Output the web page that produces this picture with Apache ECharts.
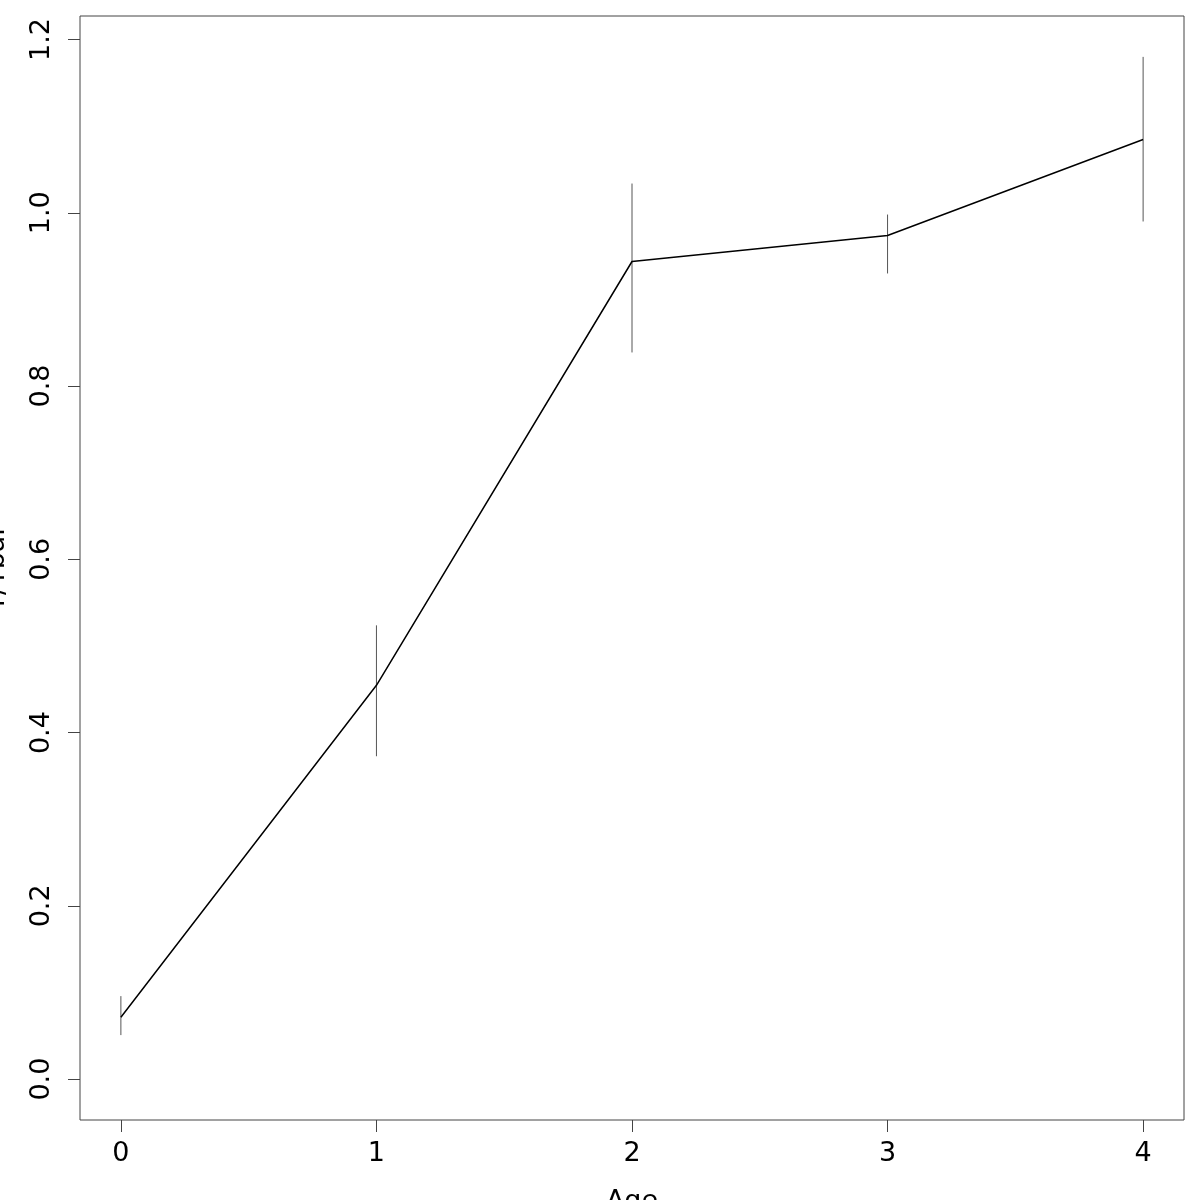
<!DOCTYPE html>
<html>
<head>
<meta charset="utf-8">
<script src="https://cdn.jsdelivr.net/npm/echarts@6/dist/echarts.min.js"></script>
<style>html,body{margin:0;padding:0;background:#fff;}#c{width:1200px;height:1200px;}</style>
</head>
<body>
<div id="c"></div>
<script>
const ages = [0, 1, 2, 3, 4];
const means = [0.0715, 0.4546, 0.9438, 0.9738, 1.0846];
const lowers = [0.0508, 0.3727, 0.8388, 0.9300, 0.9900];
const uppers = [0.0958, 0.5238, 1.0338, 0.9980, 1.1800];
const xTicks = [0, 1, 2, 3, 4];
const yTicks = [0, 0.2, 0.4, 0.6, 0.8, 1.0, 1.2];

const chart = echarts.init(document.getElementById('c'), null, {renderer: 'canvas'});
const font = 'DejaVu Sans';
chart.setOption({
  animation: false,
  backgroundColor: '#fff',
  grid: {left: 80, top: 16, width: 1104, height: 1104, outerBoundsMode: 'none', containLabel: false,
         show: true, borderColor: '#444', borderWidth: 1, backgroundColor: 'transparent'},
  xAxis: {
    type: 'value', min: -0.16, max: 4.16,
    name: 'Age', nameLocation: 'middle', nameGap: 68,
    nameTextStyle: {fontFamily: font, fontSize: 27, color: '#000'},
    splitLine: {show: false},
    axisLine: {show: false, onZero: false},
    axisTick: {show: true, inside: false, length: 12, lineStyle: {color: '#444'}, customValues: xTicks},
    axisLabel: {fontFamily: font, fontSize: 27, color: '#000', margin: 20, customValues: xTicks, formatter: v => String(v)}
  },
  yAxis: {
    type: 'value', min: -0.0472, max: 1.2272,
    name: 'Y/Ybar', nameLocation: 'middle', nameGap: 70, nameRotate: 90,
    nameTextStyle: {fontFamily: font, fontSize: 27, color: '#000'},
    splitLine: {show: false},
    axisLine: {show: false, onZero: false},
    axisTick: {show: true, inside: false, length: 12, lineStyle: {color: '#444'}, customValues: yTicks},
    axisLabel: {fontFamily: font, fontSize: 27, color: '#000', margin: 25, rotate: 90, customValues: yTicks, formatter: v => v.toFixed(1)}
  },
  series: [
    {
      type: 'line',
      data: ages.map((a, i) => [a, means[i]]),
      showSymbol: false, symbol: 'none',
      lineStyle: {color: '#000', width: 1.5},
      z: 3
    },
    {
      type: 'custom',
      data: ages.map((a, i) => [a, lowers[i], uppers[i]]),
      renderItem: function (params, api) {
        const p1 = api.coord([api.value(0), api.value(1)]);
        const p2 = api.coord([api.value(0), api.value(2)]);
        return {type: 'line', shape: {x1: p1[0], y1: p1[1], x2: p2[0], y2: p2[1]}, style: {stroke: '#555', lineWidth: 1}};
      },
      z: 2
    }
  ]
});
</script>
</body>
</html>
